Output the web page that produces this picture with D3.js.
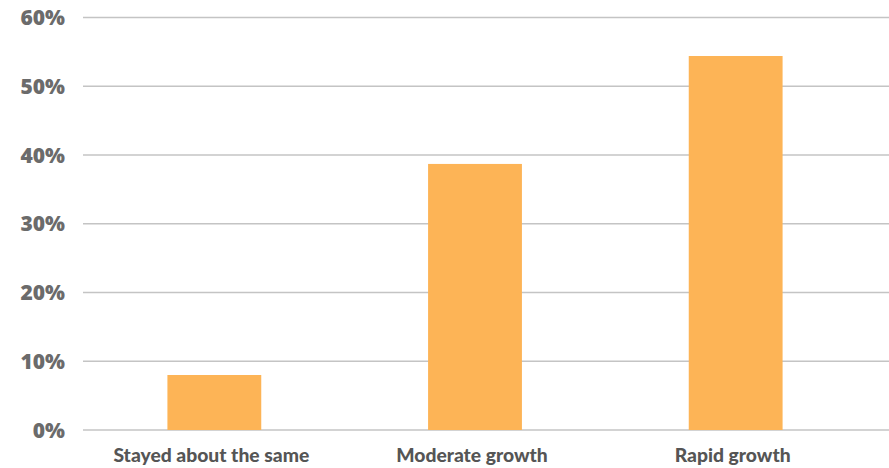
<!DOCTYPE html>
<html><head><meta charset="utf-8">
<script src="https://cdn.jsdelivr.net/npm/d3@7"></script>
<style>body{margin:0;background:#fff;}svg{display:block;}</style>
</head><body>
<svg id="c" width="889" height="468"></svg>
<script>
const categories = ["Stayed about the same", "Moderate growth", "Rapid growth"];
const values = [8.0, 38.7, 54.4];
const tickValues = [0, 10, 20, 30, 40, 50, 60];
const tickLabels = ["0%", "10%", "20%", "30%", "40%", "50%", "60%"];

const svg = d3.select("#c");
const x = d3.scaleBand().domain(categories).range([84, 866]).paddingInner(0.64).paddingOuter(0.32);
const y = d3.scaleLinear().domain([0, 60]).range([430, 17.5]);

const g = svg.append("g");
g.selectAll("line.grid").data(tickValues).enter().append("line")
  .attr("x1", 83).attr("x2", 889)
  .attr("y1", d => y(d)).attr("y2", d => y(d))
  .attr("stroke", "#c4c4c4").attr("stroke-width", 1.5);

g.selectAll("text.tick").data(tickValues).enter().append("text")
  .attr("x", 65).attr("y", d => y(d) + 7.5)
  .attr("text-anchor", "end")
  .attr("font-family", "'Open Sans', sans-serif").attr("font-weight", 800)
  .attr("font-size", 21).attr("fill", "#6b6b6b")
  .text((d, i) => tickLabels[i]);

g.selectAll("rect").data(values).enter().append("rect")
  .attr("x", (d, i) => x(categories[i]))
  .attr("width", x.bandwidth())
  .attr("y", d => y(d))
  .attr("height", d => y(0) - y(d))
  .attr("fill", "#fdb456");

g.selectAll("text.cat").data(categories).enter().append("text")
  .attr("x", d => x(d) + x.bandwidth() / 2 - 3).attr("y", 462)
  .attr("text-anchor", "middle")
  .attr("font-family", "Lato, sans-serif").attr("font-weight", 900)
  .attr("font-size", 19.3).attr("fill", "#555")
  .text(d => d);
</script>
</body></html>
